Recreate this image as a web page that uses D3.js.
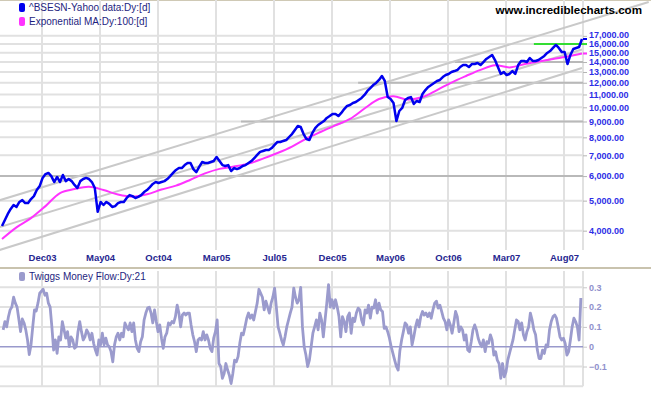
<!DOCTYPE html>
<html>
<head>
<meta charset="utf-8">
<script src="https://cdn.jsdelivr.net/npm/d3@7/dist/d3.min.js"></script>
<style>
body{margin:0;background:#fff;}
svg{display:block;font-family:Arial,"Liberation Sans",sans-serif;}
</style>
</head>
<body>
<div id="app"></div>
<script>
// x positions are trading days from the first bar (0..1000)
var xTickDays = [69,169,269,369,469,569,669,769,869,969];
var xLabels = ['Dec03','May04','Oct04','Mar05','Jul05','Dec05','May06','Oct06','Mar07','Aug07'];

// BSE Sensex close, one value every 5 trading days
var priceStep = 5;
var price = [4140,4330,4530,4700,4840,4770,4950,5020,4910,4910,
  5060,5170,5410,5570,5920,6090,6140,6000,5740,5960,
  5740,6050,5780,5870,5780,5620,5490,5780,5870,5920,
  5870,5740,5490,4600,4950,4840,4950,4880,4770,4800,
  4910,4950,4950,5100,5210,5170,5100,5140,5210,5330,
  5410,5530,5660,5740,5700,5740,5780,5870,6000,6140,
  6280,6370,6370,6510,6610,6610,6320,6180,6420,6660,
  6610,6610,6660,6710,6910,6710,6510,6470,6510,6230,
  6370,6320,6370,6470,6510,6610,6710,6860,7020,7180,
  7230,7280,7280,7390,7560,7730,7730,7790,7840,8020,
  8200,8450,8700,8640,8200,7900,7840,8260,8570,8770,
  8900,9030,9240,9370,9520,9520,9370,9590,9870,10100,
  10170,10330,10400,10560,10720,10960,11290,11540,11800,11980,
  12250,12620,12160,10790,10640,10330,9030,9730,9950,10560,
  10720,10790,10250,10480,10400,11040,11370,11630,11800,11980,
  12160,12250,12520,12710,12810,13000,13090,13190,13490,13690,
  13690,13490,13790,13790,13900,13690,14000,14320,14530,14750,
  14210,13490,12810,13000,12710,12810,13090,12810,13690,14110,
  14110,14000,14420,14110,14110,14210,14420,14640,14970,15190,
  15540,15890,15540,15080,15080,13790,14750,15420,15540,15650,
  16610];

// 100 day exponential MA, one value every 25 trading days
var maStep = 25;
var ma = [3760,4100,4390,4800,5290,5450,5540,5410,5230,5150,
  5240,5430,5590,5840,6120,6330,6440,6580,6830,7120,
  7470,7930,8340,8750,9170,9910,10640,10850,10590,10790,
  11370,12020,12620,13210,13660,13450,13760,14040,14320,14580,
  14910];

// Twiggs money flow (21), one value every 3 trading days from day 2
var mfStart = 2, mfStep = 3;
var mf = [0.085,0.127,0.10,0.15,0.186,0.20,0.25,0.22,0.20,0.14,0.076,0.14,
  0.12,0.085,0.034,-0.04,0.009,0.10,0.186,0.18,0.22,0.27,0.28,0.29,0.26,0.27,0.22,0.20,0.10,-0.017,0.034,-0.034,0.05,0.034,0.127,
  0.085,0.043,0.076,0,0.05,0.034,-0.008,0,0.076,0.127,0.076,0.034,0.05,0.085,0.068,0.034,0.068,0.017,-0.017,-0.042,0.034,0.009,0.068,
  0.009,0.043,0.009,0,-0.025,-0.076,0.009,0.05,0.068,0.034,0.068,0.05,0.12,0.10,0.085,0.12,0.076,0.12,0.034,-0.008,-0.025,0.025,0.05,
  0.135,0.17,0.195,0.20,0.17,0.12,0.186,0.127,0.076,0.11,0.043,-0.008,0.05,0.068,0.12,0.11,0.127,0.12,0.152,0.21,0.17,0.10,0.16,
  0.17,0.16,0.17,0.17,0.11,0.06,0.025,-0.025,0.034,0.043,0.034,0.076,0.034,0.06,0.034,-0.008,-0.025,0.043,0.076,0.135,-0.085,-0.10,
  -0.16,-0.135,-0.085,-0.118,-0.144,-0.186,-0.135,-0.068,-0.076,-0.05,0.017,0.068,0.06,0.10,0.144,0.17,0.144,0.16,0.135,0.178,0.22,0.29,0.27,
  0.25,0.186,0.23,0.20,0.17,0.22,0.25,0.296,0.20,0.10,0.068,0.034,0.009,0.05,0.10,0.135,0.17,0.20,0.296,0.25,0.22,0.237,0.30,
  0.10,0,-0.042,-0.10,-0.068,0,0.068,0.10,0.135,0.085,0.17,0.135,0.05,0.135,0.22,0.313,0.20,0.237,0.195,0.237,0.20,0.152,0.05,
  0.152,0.127,0.076,0.152,0.17,0.068,0.144,0.127,0.17,0.195,0.186,0.135,0.11,0.186,0.17,0.21,0.144,0.20,0.195,0.237,0.17,0.22,0.186,
  0.178,0.093,0.10,0.076,0.043,0,-0.034,-0.068,-0.10,-0.118,-0.02,0.034,0.076,0.12,0.11,0.068,0.10,0.009,0.05,0.10,0.135,0.10,0.152,
  0.178,0.16,0.17,0.152,0.17,0.144,0.186,0.22,0.23,0.195,0.21,0.178,0.144,0.127,0.085,0.135,0.11,0.068,0.12,0.178,0.152,0.076,0.10,
  0.085,0.034,0.06,-0.017,-0.025,0.025,0.085,0.11,0.085,0.043,0.017,0,0.034,-0.025,0.025,0.017,0.06,0.034,-0.042,-0.025,-0.068,-0.085,
  -0.16,-0.085,-0.152,-0.127,-0.068,-0.034,0,0.034,0.085,0.135,0.127,0.085,0.12,0.06,0.034,0.076,0.10,0.17,0.135,0.085,0.06,-0.017,-0.06,
  -0.06,-0.017,-0.034,0.009,0,0.085,0.127,0.152,0.16,0.144,0.10,0.05,0.034,0.043,0.017,-0.042,-0.025,0.034,0.10,0.144,0.127,0.10,0.034,
  0.246];

var yTicks = [4000,5000,6000,7000,8000,9000,10000,11000,12000,13000,14000,15000,16000,17000];
var mfTicks = [-0.1,0,0.1,0.2,0.3];
var mfGrid = [-0.2,-0.1,0.1,0.2,0.3];

// horizontal support lines: [start day, level], running to the last bar
var supports = [[-4,6000],[412,9000],[614,12000],[781,14000]];
var resistance = [917,16000];
// trend channel: [day0, price0, day1, price1]
var channel = [[-5,5010,1115,21850],[-5,4100,1000,15360],[-5,3460,1000,13390]];

var W = 651, H = 395, plotR = 583, mainB = 250;

var svg = d3.select('#app')
  .append('svg')
    .attr('width',W)
    .attr('height',H);

var x = d3.scaleLinear().domain([0,1000]).range([2,582]);
var y = d3.scaleLog().domain([3465,22190]).range([mainB,0]);
var ym = d3.scaleLinear().domain([-0.2,0.3]).range([386.3,287.3]);

// frame
svg.append('line')
    .attr('x1',0).attr('x2',W).attr('y1',0.5).attr('y2',0.5)
    .attr('stroke','#cfc9b5');

var grid = svg.append('g').attr('class','grid')
    .attr('stroke','#e1e1e1').attr('stroke-width',2);

grid.selectAll('.vmain')
    .data(xTickDays)
  .enter().append('line')
    .attr('x1',function(d){return x(d);})
    .attr('x2',function(d){return x(d);})
    .attr('y1',0).attr('y2',mainB);

grid.selectAll('.hmain')
    .data(yTicks)
  .enter().append('line')
    .attr('x1',0).attr('x2',plotR)
    .attr('y1',function(d){return y(d);})
    .attr('y2',function(d){return y(d);});

grid.selectAll('.vmf')
    .data(xTickDays)
  .enter().append('line')
    .attr('x1',function(d){return x(d);})
    .attr('x2',function(d){return x(d);})
    .attr('y1',271).attr('y2',ym(-0.2));

grid.selectAll('.hmf')
    .data(mfGrid)
  .enter().append('line')
    .attr('x1',0).attr('x2',plotR)
    .attr('y1',function(d){return ym(d);})
    .attr('y2',function(d){return ym(d);});

grid.append('line').attr('x1',plotR).attr('x2',plotR).attr('y1',0).attr('y2',mainB);
grid.append('line').attr('x1',plotR).attr('x2',plotR).attr('y1',271).attr('y2',ym(-0.2));

// panel separator
svg.append('line')
    .attr('x1',0).attr('x2',W).attr('y1',268).attr('y2',268)
    .attr('stroke','#c9c3ae').attr('stroke-width',2);

// support lines
svg.append('g').selectAll('line')
    .data(supports)
  .enter().append('line')
    .attr('x1',function(d){return x(d[0]);})
    .attr('x2',plotR)
    .attr('y1',function(d){return y(d[1]);})
    .attr('y2',function(d){return y(d[1]);})
    .attr('stroke','#b9b9b9').attr('stroke-width',2);

// trend channel
svg.append('g').selectAll('line')
    .data(channel)
  .enter().append('line')
    .attr('x1',function(d){return x(d[0]);})
    .attr('y1',function(d){return y(d[1]);})
    .attr('x2',function(d){return x(d[2]);})
    .attr('y2',function(d){return y(d[3]);})
    .attr('stroke','#c9c9c9').attr('stroke-width',2);

svg.append('line')
    .attr('x1',x(resistance[0])).attr('x2',plotR)
    .attr('y1',y(resistance[1])).attr('y2',y(resistance[1]))
    .attr('stroke','#33dd33').attr('stroke-width',2);

// moving average and price
svg.append('path')
    .datum(ma)
    .attr('fill','none')
    .attr('stroke','#ff33ff')
    .attr('stroke-width',2)
    .attr('d',d3.line()
      .curve(d3.curveCatmullRom)
      .x(function(d,i){return x(i*maStep);})
      .y(function(d){return y(d);}));

svg.append('path')
    .datum(price)
    .attr('fill','none')
    .attr('stroke','#0000ee')
    .attr('stroke-width',2.5)
    .attr('stroke-linejoin','round')
    .attr('d',d3.line()
      .x(function(d,i){return x(i*priceStep);})
      .y(function(d){return y(d);}));

// money flow
svg.append('line')
    .attr('x1',0).attr('x2',plotR).attr('y1',ym(0)).attr('y2',ym(0))
    .attr('stroke','#9999cc').attr('stroke-width',1.5);

svg.append('path')
    .datum(mf)
    .attr('fill','none')
    .attr('stroke','#9b9bcd')
    .attr('stroke-width',2.8)
    .attr('stroke-linejoin','round')
    .attr('d',d3.line()
      .x(function(d,i){return x(mfStart+i*mfStep);})
      .y(function(d){return ym(d);}));

// axes
svg.append('g')
    .attr('transform','translate('+plotR+',0)')
    .call(d3.axisRight(y).tickValues(yTicks).tickFormat(d3.format(',.2f')).tickSize(4).tickPadding(2))
    .attr('font-family','Arial, "Liberation Sans", sans-serif')
    .attr('font-size',9)
    .attr('font-weight','bold')
    .call(function(g){g.select('.domain').remove();})
    .call(function(g){g.selectAll('line').attr('stroke','#b5b5b5');})
    .call(function(g){g.selectAll('text').attr('fill','#2d2de6');})
    .call(function(g){g.selectAll('text').filter(function(d){return d===17000;}).attr('y',-1.2);});

// last value markers on the price axis
svg.append('g').selectAll('line')
    .data([[price[price.length-1],'#0000ee'],[ma[ma.length-1],'#ff33ff'],[resistance[1],'#33dd33']])
  .enter().append('line')
    .attr('x1',plotR).attr('x2',plotR+4)
    .attr('y1',function(d){return y(d[0]);})
    .attr('y2',function(d){return y(d[0]);})
    .attr('stroke',function(d){return d[1];})
    .attr('stroke-width',2);

svg.append('g')
    .attr('transform','translate('+plotR+',0)')
    .call(d3.axisRight(ym).tickValues(mfTicks).tickFormat(d3.format('')).tickSize(4).tickPadding(2))
    .attr('font-family','Arial, "Liberation Sans", sans-serif')
    .attr('font-size',9)
    .attr('font-weight','bold')
    .call(function(g){g.select('.domain').remove();})
    .call(function(g){g.selectAll('line').attr('stroke','#c8c8c8');})
    .call(function(g){g.selectAll('text').attr('fill','#9090cc');});

svg.append('g')
    .attr('transform','translate(0,'+mainB+')')
    .call(d3.axisBottom(x).tickValues(xTickDays).tickFormat(function(d,i){return xLabels[i];}).tickSize(0).tickPadding(4))
    .attr('font-family','Arial, "Liberation Sans", sans-serif')
    .attr('font-size',9.5)
    .attr('font-weight','bold')
    .call(function(g){g.select('.domain').remove();})
    .call(function(g){g.selectAll('text').attr('fill','#262690');});

// legends
var legend = [['^BSESN-Yahoo data:Dy:[d]','#0000ee',3],['Exponential MA:Dy:100:[d]','#ff33ff',17],['Twiggs Money Flow:Dy:21','#9b9bcd',272]];
var lg = svg.append('g').selectAll('g')
    .data(legend)
  .enter().append('g');
lg.append('rect')
    .attr('x',19).attr('y',function(d){return d[2];})
    .attr('width',6).attr('height',9).attr('rx',2)
    .attr('fill',function(d){return d[1];});
lg.append('text')
    .attr('x',29).attr('y',function(d){return d[2]+8;})
    .attr('font-size',10)
    .attr('fill','#1e1e80')
    .text(function(d){return d[0];});

svg.append('text')
    .attr('x',642).attr('y',14)
    .attr('text-anchor','end')
    .attr('font-size',11.6)
    .attr('font-weight','bold')
    .attr('fill','#000')
    .text('www.incrediblecharts.com');
</script>
</body>
</html>
